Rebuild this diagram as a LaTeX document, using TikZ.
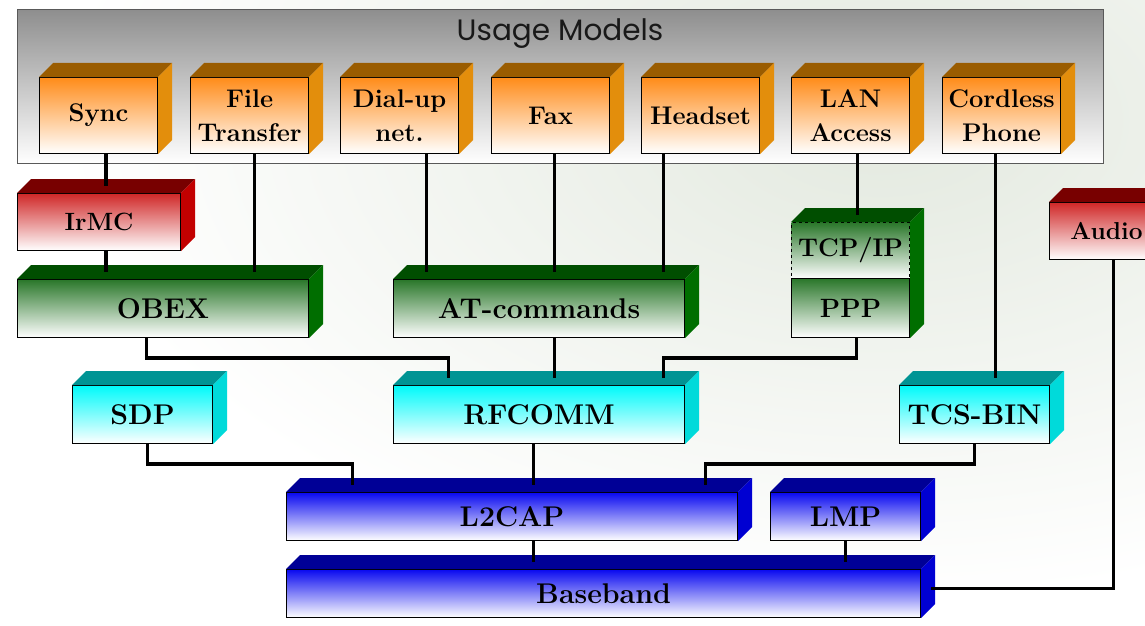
\documentclass[tikz,border=0pt]{standalone}
\usepackage{fontspec}
\newfontfamily\titlefont{Poppins}
\usetikzlibrary{calc}
\definecolor{bgtint}{HTML}{E3E9DF}
\definecolor{panelTop}{HTML}{8E8E8E}
\definecolor{orFront}{HTML}{FF8C1A}
\definecolor{orTopF}{HTML}{9A5C00}
\definecolor{orSide}{HTML}{E38E0C}
\definecolor{rdFront}{HTML}{D02828}
\definecolor{rdTopF}{HTML}{780000}
\definecolor{rdSide}{HTML}{C20000}
\definecolor{grFront}{HTML}{2A772A}
\definecolor{grTopF}{HTML}{004E00}
\definecolor{grSide}{HTML}{006E00}
\definecolor{cyFront}{HTML}{00FAFA}
\definecolor{cyTopF}{HTML}{009494}
\definecolor{cySide}{HTML}{00DADA}
\definecolor{blFront}{HTML}{0A0AF0}
\definecolor{blTopF}{HTML}{000096}
\definecolor{blSide}{HTML}{0000D2}
\newcommand\cubefaces[3]{%
  \fill[#2] (#1.north west) -- ++(14,-14) -- ($(#1.north east)+(14,-14)$) -- (#1.north east) -- cycle;
  \fill[#3] (#1.north east) -- ++(14,-14) -- ($(#1.south east)+(14,-14)$) -- (#1.south east) -- cycle;
  \coordinate (#1-t) at ($(#1.north)+(7,-7)$);}
\begin{document}
\begin{tikzpicture}[x=1pt,y=-1pt,
  box/.style={draw=black, line width=1.1pt, inner sep=0pt, anchor=north west, align=center,
    font=\fontsize{28.5}{32}\selectfont\bfseries},
  umbox/.style={box, top color=orFront, bottom color=white, font=\fontsize{25.5}{34}\selectfont\bfseries},
  redbox/.style={box, top color=rdFront, bottom color=white, font=\fontsize{25}{30}\selectfont\bfseries},
  grbox/.style={box, top color=grFront, bottom color=white},
  cybox/.style={box, top color=cyFront, bottom color=white},
  blbox/.style={box, top color=blFront, bottom color=white},
  conn/.style={draw=black, line width=3.4pt},
]
\useasboundingbox (0,0) rectangle (1145,626);
\clip (0,0) rectangle (1145,626);
\fill[white] (0,0) rectangle (1145,626);
\shade[inner color=bgtint, outer color=white] (880,120) ellipse (820 and 480);

% Usage models panel
\node[draw=black!65, line width=1pt, anchor=north west, inner sep=0pt,
  top color=panelTop, bottom color=white, minimum width=1086, minimum height=154] (panel) at (17,9) {};
\node[font=\titlefont\fontsize{29.5}{32}\selectfont, text=black!90] (umtitle) at (560,34) {Usage Models};

\node[umbox, minimum width=118, minimum height=76] (sync) at (39,77) {Sync};
\node[umbox, minimum width=118, minimum height=76] (ft) at (190,77) {File\\Transfer};
\node[umbox, minimum width=118, minimum height=76] (dial) at (340,77) {Dial-up\\net.};
\node[umbox, minimum width=118, minimum height=76] (fax) at (491,77) {Fax};
\node[umbox, minimum width=118, minimum height=76] (head) at (641,77) {Headset};
\node[umbox, minimum width=118, minimum height=76] (lan) at (791,77) {LAN\\Access};
\node[umbox, minimum width=118, minimum height=76] (cord) at (942,77) {Cordless\\Phone};
\foreach \n in {sync,ft,dial,fax,head,lan,cord} {\cubefaces{\n}{orTopF}{orSide}}

% protocol stack
\node[redbox, minimum width=163, minimum height=57] (irmc) at (17,193) {IrMC};
\cubefaces{irmc}{rdTopF}{rdSide}
\node[redbox, minimum width=114, minimum height=57, font=\fontsize{24.5}{30}\selectfont\bfseries] (audio) at (1049,202) {Audio};
\cubefaces{audio}{rdTopF}{rdSide}

\node[grbox, minimum width=291, minimum height=58] (obex) at (17,279) {OBEX};
\cubefaces{obex}{grTopF}{grSide}
\node[grbox, minimum width=291, minimum height=58] (atc) at (393,279) {AT-commands};
\cubefaces{atc}{grTopF}{grSide}
\node[grbox, dashed, minimum width=118, minimum height=56, font=\fontsize{25.5}{30}\selectfont\bfseries] (tcp) at (791,222) {TCP/IP};
\node[grbox, minimum width=118, minimum height=59, font=\fontsize{26.5}{30}\selectfont\bfseries] (ppp) at (791,278) {PPP};
\fill[grTopF] (tcp.north west) -- ++(14,-14) -- ($(tcp.north east)+(14,-14)$) -- (tcp.north east) -- cycle;
\fill[grSide] (tcp.north east) -- ++(14,-14) -- ($(ppp.south east)+(14,-14)$) -- (ppp.south east) -- cycle;
\coordinate (tcp-t) at ($(tcp.north)+(7,-7)$);

\node[cybox, minimum width=140, minimum height=58] (sdp) at (72,385) {SDP};
\cubefaces{sdp}{cyTopF}{cySide}
\node[cybox, minimum width=291, minimum height=58] (rfc) at (393,385) {RFCOMM};
\cubefaces{rfc}{cyTopF}{cySide}
\node[cybox, minimum width=150, minimum height=58] (tcs) at (899,385) {TCS-BIN};
\cubefaces{tcs}{cyTopF}{cySide}

\node[blbox, minimum width=451, minimum height=48] (l2cap) at (286,492) {L2CAP};
\cubefaces{l2cap}{blTopF}{blSide}
\node[blbox, minimum width=150, minimum height=48] (lmp) at (770,492) {LMP};
\cubefaces{lmp}{blTopF}{blSide}
\node[blbox, minimum width=634, minimum height=48] (base) at (286,569) {Baseband};
\cubefaces{base}{blTopF}{blSide}

% connectors
\draw[conn] (sync.south -| irmc-t) -- (irmc-t);
\draw[conn] (irmc.south -| irmc-t) -- (irmc-t |- obex-t);
\draw[conn] ($(ft.south)+(5,0)$) coordinate (a) -- (a |- obex-t);
\draw[conn] ($(dial.south)+(27,0)$) coordinate (a) -- (a |- atc-t);
\draw[conn] ($(fax.south)+(4,0)$) coordinate (a) -- (a |- atc-t);
\draw[conn] ($(head.south)+(-37,0)$) coordinate (a) -- (a |- atc-t);
\draw[conn] (lan.south -| tcp-t) -- (tcp-t);
\draw[conn] ($(cord.south)+(-6,0)$) coordinate (a) -- (a |- tcs-t);

\draw[conn] ($(obex.south)+(-16.5,0)$) -- ++(0,20) -| ($(rfc-t)+(-97.5,0)$);
\draw[conn] ($(atc.south)+(15.5,0)$) coordinate (a) -- (a |- rfc-t);
\draw[conn] ($(ppp.south)+(6,0)$) -- ++(0,20) -| ($(rfc-t)+(117.5,0)$);

\draw[conn] ($(sdp.south)+(5,0)$) -- ++(0,20) -| ($(l2cap-t)+(-166.5,0)$);
\draw[conn] ($(rfc.south)+(-5.5,0)$) coordinate (a) -- (a |- l2cap-t);
\draw[conn] (tcs.south) -- ++(0,20) -| ($(l2cap-t)+(186.5,0)$);

\draw[conn] ($(l2cap.south)+(21.5,0)$) coordinate (a) -- (a |- base-t);
\draw[conn] (lmp.south) -- (lmp.south |- base-t);
\coordinate (bside) at ($(base.east)+(10,-5)$);
\draw[conn] ($(audio.south)+(7,0)$) coordinate (a) -- (a |- bside) -- (bside);
\end{tikzpicture}
\end{document}
